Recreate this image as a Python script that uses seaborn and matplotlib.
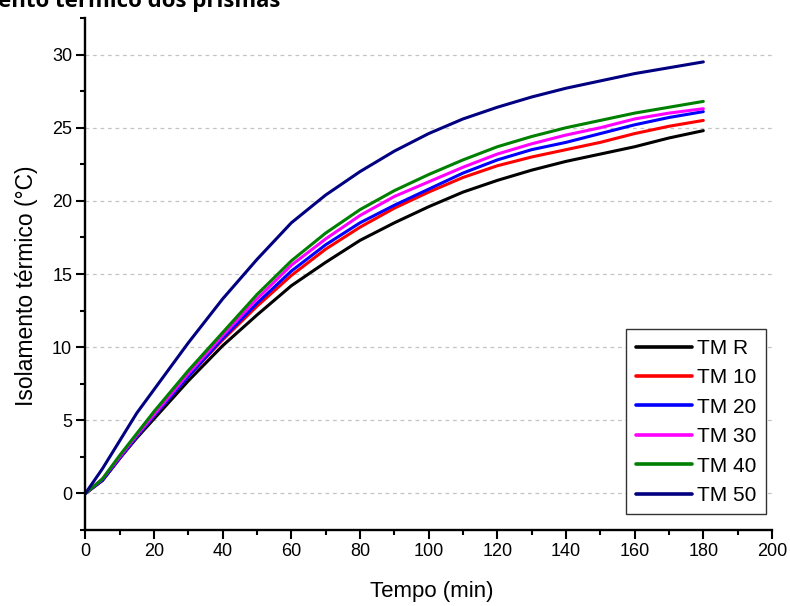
import numpy as np
import pandas as pd
import matplotlib
matplotlib.use("Agg")
import matplotlib.pyplot as plt
import seaborn as sns

# Time axis (minutes)
tempo = [0, 5, 10, 15, 20, 30, 40, 50, 60, 70, 80, 90, 100, 110, 120, 130, 140, 150, 160, 170, 180]

# Thermal insulation (°C) for each prism mix
tm_r  = [0, 0.9, 2.4, 3.8, 5.1, 7.7, 10.1, 12.2, 14.2, 15.8, 17.3, 18.5, 19.6, 20.6, 21.4, 22.1, 22.7, 23.2, 23.7, 24.3, 24.8]
tm_10 = [0, 0.9, 2.4, 3.9, 5.3, 8.0, 10.5, 12.8, 14.9, 16.7, 18.2, 19.5, 20.6, 21.6, 22.4, 23.0, 23.5, 24.0, 24.6, 25.1, 25.5]
tm_20 = [0, 0.9, 2.4, 3.9, 5.3, 8.0, 10.6, 13.0, 15.2, 17.0, 18.5, 19.7, 20.8, 21.9, 22.8, 23.5, 24.0, 24.6, 25.2, 25.7, 26.1]
tm_30 = [0, 1.0, 2.5, 4.0, 5.4, 8.2, 10.8, 13.3, 15.6, 17.4, 19.0, 20.3, 21.3, 22.3, 23.2, 23.9, 24.5, 25.0, 25.6, 26.0, 26.3]
tm_40 = [0, 1.0, 2.6, 4.1, 5.6, 8.4, 11.0, 13.6, 15.9, 17.8, 19.4, 20.7, 21.8, 22.8, 23.7, 24.4, 25.0, 25.5, 26.0, 26.4, 26.8]
tm_50 = [0, 1.7, 3.6, 5.5, 7.1, 10.3, 13.3, 16.0, 18.5, 20.4, 22.0, 23.4, 24.6, 25.6, 26.4, 27.1, 27.7, 28.2, 28.7, 29.1, 29.5]

series_names = ["TM R", "TM 10", "TM 20", "TM 30", "TM 40", "TM 50"]
series_values = [tm_r, tm_10, tm_20, tm_30, tm_40, tm_50]
series_colors = ["#000000", "#ff0000", "#0000ff", "#ff00ff", "#008000", "#000080"]

x_ticks = [0, 20, 40, 60, 80, 100, 120, 140, 160, 180, 200]
y_ticks = [0, 5, 10, 15, 20, 25, 30]

frames = []
for name, vals in zip(series_names, series_values):
    frames.append(pd.DataFrame({"Tempo": tempo, "Valor": vals, "Amostra": name}))
df = pd.concat(frames, ignore_index=True)

sns.set_style("ticks")
plt.rcParams["font.family"] = ["Liberation Sans", "DejaVu Sans"]
plt.rcParams["text.color"] = "black"
plt.rcParams["axes.labelcolor"] = "black"

fig = plt.figure(figsize=(7.9, 6.06), dpi=100)
ax = fig.add_axes([0.108, 0.1253, 0.8692, 0.845])

sns.lineplot(data=df, x="Tempo", y="Valor", hue="Amostra",
             hue_order=series_names,
             palette=dict(zip(series_names, series_colors)),
             linewidth=2.2, ax=ax, legend=True)

ax.set_xlim(0, 200)
ax.set_ylim(-2.5, 32.5)
ax.set_xticks(x_ticks)
ax.set_yticks(y_ticks)
ax.set_xticks(np.arange(10, 200, 20), minor=True)
ax.set_yticks(np.arange(-2.5, 32.6, 5), minor=True)

ax.yaxis.grid(True, which="major", color="#c4c4c4", linestyle=(0, (3, 3)), linewidth=0.9)
ax.xaxis.grid(False)

for side in ["top", "right"]:
    ax.spines[side].set_visible(False)
for side in ["left", "bottom"]:
    ax.spines[side].set_linewidth(1.7)
    ax.spines[side].set_color("black")

ax.tick_params(axis="both", which="major", direction="out", length=6.5, width=1.5,
               labelsize=13, pad=3, colors="black")
ax.tick_params(axis="both", which="minor", direction="out", length=3.8, width=1.5,
               colors="black")

ax.set_xlabel("Tempo (min)", fontsize=16)
ax.set_ylabel("Isolamento térmico (°C)", fontsize=16.5)
ax.xaxis.set_label_coords(0.505, -0.099)
ax.yaxis.set_label_coords(-0.069, 0.4766)

handles, labels = ax.get_legend_handles_labels()
leg = ax.legend(handles, labels, loc="lower right",
                bbox_to_anchor=(766 / 790, 1 - 514.3 / 606),
                bbox_transform=fig.transFigure, borderaxespad=0,
                frameon=True, fancybox=False, framealpha=1,
                edgecolor="#333333", fontsize=15, handlelength=2.7,
                handletextpad=0.25, labelspacing=0.5, borderpad=0.45)
leg.get_frame().set_linewidth(1.0)
for line in leg.get_lines():
    line.set_linewidth(2.6)

fig.text(280 / 790, 1 - 7.5 / 606, "Isolamento térmico dos prismas",
         ha="right", va="baseline", fontsize=16, fontweight="bold",
         family=["Open Sans", "DejaVu Sans"])

fig.savefig("out.png", dpi=100)
